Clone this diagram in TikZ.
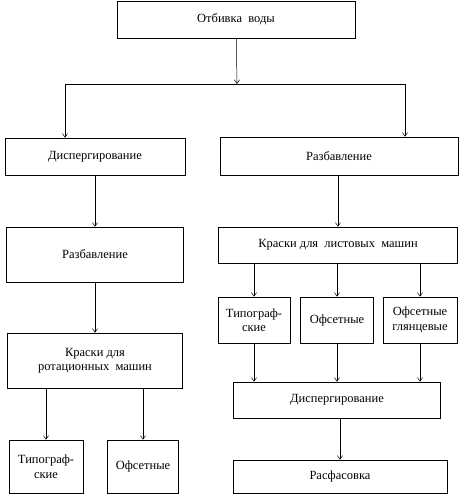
\documentclass[tikz,border=0pt]{standalone}
\usepackage{fontspec}
\setmainfont{Liberation Serif}
\usetikzlibrary{arrows.meta,positioning}
\tikzset{>={Straight Barb[length=1.3mm,width=1.8mm]}}

\begin{document}
\begin{tikzpicture}[
    x=1pt, y=-1pt,
    box/.style={draw, line width=0.6pt, inner sep=2pt, align=center,
      font=\fontsize{12.5}{14.5}\selectfont},
    link/.style={->, line width=0.5pt}
  ]
    \useasboundingbox (0,0) rectangle (460,500);
    % top and the two branches
    \node[box, minimum width=238pt, minimum height=37pt] (water) at (236,19.5) {Отбивка~~воды};
    \node[box, minimum width=180pt, minimum height=37pt] (dispL) at (95,156.5) {Диспергирование};
    \node[box, minimum width=238pt, minimum height=38pt] (dilR) at (339,156) {Разбавление};
    \coordinate (split) at (237,84);
    \coordinate (splitL) at (65,84);
    \coordinate (splitR) at (405,84);
    \draw[link] (water) -- (split);
    \draw[line width=0.5pt] (splitL) -- (splitR);
    \draw[link] (splitL) -- (splitL |- dispL.north);
    \draw[link] (splitR) -- (splitR |- dilR.north);

    % left column: rotary presses
    \node[box, minimum width=177pt, minimum height=55pt] (dilL) at (95,254.5) {Разбавление};
    \node[box, minimum width=175pt, minimum height=55pt] (rotL) at (95,360.5) {Краски для\\ротационных~~машин};
    \node[box, minimum width=74pt, minimum height=53pt] (typL) at (46,466.5) {Типограф-\\ские};
    \node[box, minimum width=71pt, minimum height=53pt] (offL) at (143,466.5) {Офсетные};
    \draw[link] (dispL) -- (dilL);
    \draw[link] (dilL) -- (rotL);
    \draw[link] (typL.north |- rotL.south) -- (typL.north);
    \draw[link] (offL.north |- rotL.south) -- (offL.north);

    % right column: sheet-fed presses
    \node[box, minimum width=239pt, minimum height=36pt] (sheetR) at (338,245) {Краски для~~листовых~~машин};
    \node[box, minimum width=72pt, minimum height=46pt] (typR) at (254,320) {Типограф-\\ские};
    \node[box, minimum width=73pt, minimum height=46pt] (offR) at (337,320) {Офсетные};
    \node[box, minimum width=74pt, minimum height=46pt] (glossR) at (420,320) {Офсетные\\глянцевые};
    \node[box, minimum width=207pt, minimum height=36pt] (dispR) at (337,400) {Диспергирование};
    \node[box, minimum width=214pt, minimum height=33pt] (pack) at (340,476.5) {Расфасовка};
    \draw[link] (dilR.south -| sheetR) -- (sheetR);
    \foreach \n in {typR, offR, glossR} {
      \draw[link] (\n.north |- sheetR.south) -- (\n.north);
      \draw[link] (\n.south) -- (\n.south |- dispR.north);
    }
    \draw[link] (dispR.south -| pack) -- (pack);
  \end{tikzpicture}
\end{document}
